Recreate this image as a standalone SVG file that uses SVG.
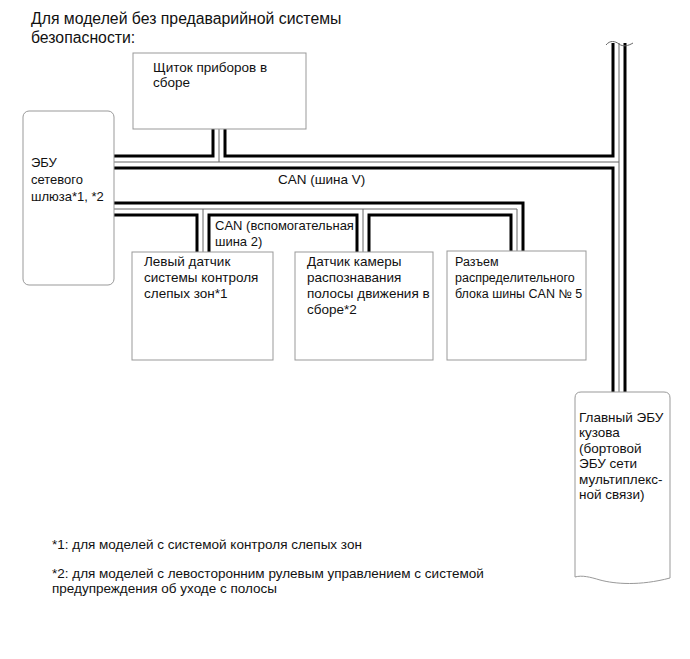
<svg xmlns="http://www.w3.org/2000/svg" width="690" height="659" viewBox="0 0 690 659">
<style>
text { font-family: "Liberation Sans", Arial, sans-serif; font-size: 13.5px; fill: #111; }
.title { font-size: 15.8px; }
.s13 { font-size: 13px; }
.s125 { font-size: 12.5px; }
.box { fill: #fff; stroke: #999; stroke-width: 1; }
.w { fill: none; stroke: #000; stroke-width: 3; stroke-linejoin: miter; }
.t { fill: none; stroke: #666; stroke-width: 1; }
</style>
<rect width="690" height="659" fill="#fff"/>
<text class="title" x="31" y="24">Для моделей без предаварийной системы</text>
<text class="title" x="31" y="43">безопасности:</text>

<g id="connectors">
  <!-- CAN V (upper pair) -->
  <polyline class="w" points="114,156 213,156 213,129"/>
  <polyline class="w" points="225,129 225,156 613,156 613,43"/>
  <polyline class="w" points="114,168 613,168 613,392"/>
  <line class="w" x1="625" y1="43" x2="625" y2="392"/>
  <line class="t" x1="114" y1="162" x2="619" y2="162"/>
  <line class="t" x1="219" y1="129" x2="219" y2="162"/>
  <line class="t" x1="619" y1="43" x2="619" y2="392"/>
  <path class="t" d="M606,45 C610,40 615,41 619,44 C623,47 628,46 633,43"/>
  <!-- CAN sub bus 2 (lower pair) -->
  <polyline class="w" points="114,203 523,203 523,251"/>
  <polyline class="w" points="114,215 197,215 197,252"/>
  <polyline class="w" points="209,252 209,215 357,215 357,252"/>
  <polyline class="w" points="369,252 369,215 511,215 511,251"/>
  <polyline class="t" points="114,209 517,209 517,251"/>
  <line class="t" x1="203" y1="209" x2="203" y2="252"/>
  <line class="t" x1="363" y1="209" x2="363" y2="252"/>
  <text x="278" y="184">CAN (шина V)</text>
  <text class="s13" x="215" y="230">CAN (вспомогательная</text>
  <text class="s13" x="215" y="246">шина 2)</text>
</g>

<g id="gateway-ecu">
  <rect class="box" x="23" y="111" width="91" height="174" rx="6"/>
  <text class="s13" x="31" y="167">ЭБУ</text>
  <text class="s13" x="31" y="184">сетевого</text>
  <text class="s13" x="31" y="201">шлюза*1, *2</text>
</g>

<g id="combination-meter">
  <rect class="box" x="133" y="53" width="173" height="76"/>
  <text x="153" y="72">Щиток приборов в</text>
  <text x="153" y="87">сборе</text>
</g>

<g id="bsm-left">
  <rect class="box" x="132" y="252" width="141" height="108"/>
  <text x="144" y="266">Левый датчик</text>
  <text x="144" y="282">системы контроля</text>
  <text x="144" y="298">слепых зон*1</text>
</g>

<g id="lane-camera">
  <rect class="box" x="295" y="252" width="138" height="108"/>
  <text x="307" y="266">Датчик камеры</text>
  <text x="307" y="282">распознавания</text>
  <text x="307" y="298">полосы движения в</text>
  <text x="307" y="314">сборе*2</text>
</g>

<g id="can-junction-5">
  <rect class="box" x="447" y="251" width="139" height="109"/>
  <text class="s125" x="455" y="266">Разъем</text>
  <text class="s125" x="455" y="282">распределительного</text>
  <text class="s125" x="455" y="298">блока шины CAN № 5</text>
</g>

<g id="main-body-ecu">
  <path class="box" d="M575,577 L575,398 Q575,392 581,392 L664,392 Q670,392 670,398 L670,578 C640,586 615,584 600,580 C590,577 582,575 575,577 Z"/>
  <text x="579" y="422">Главный ЭБУ</text>
  <text x="579" y="437">кузова</text>
  <text x="579" y="453">(бортовой</text>
  <text x="579" y="468">ЭБУ сети</text>
  <text x="579" y="484">мультиплекс-</text>
  <text x="579" y="499">ной связи)</text>
</g>

<text x="52" y="549">*1: для моделей с системой контроля слепых зон</text>
<text x="52" y="578">*2: для моделей с левосторонним рулевым управлением с системой</text>
<text x="52" y="593">предупреждения об уходе с полосы</text>
</svg>
